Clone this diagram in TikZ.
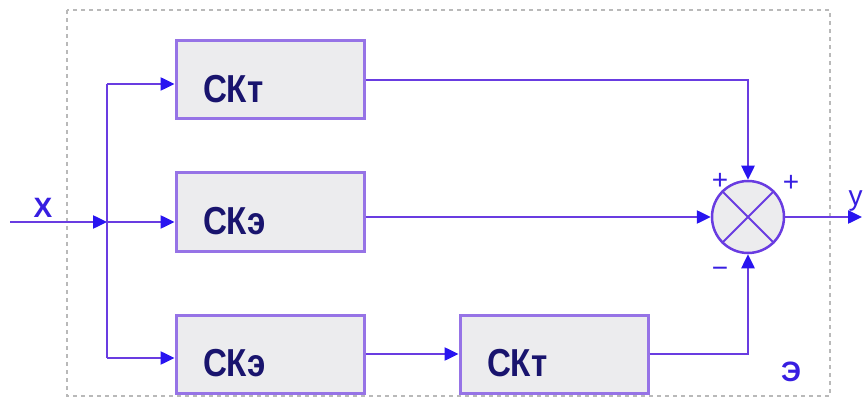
\documentclass[tikz,border=0pt]{standalone}
\usepackage{fontspec}
\setmainfont{Liberation Sans}
\newfontfamily\blockfont[FakeStretch=0.85]{Liberation Sans}
\usetikzlibrary{arrows.meta,calc}

\definecolor{wirecol}{RGB}{105,60,225}
\definecolor{tipcol}{RGB}{40,20,240}
\definecolor{edgecol}{RGB}{150,115,230}
\definecolor{boxfill}{RGB}{236,236,238}
\definecolor{ink}{RGB}{25,20,110}
\definecolor{signcol}{RGB}{55,30,225}

\begin{document}
\begin{tikzpicture}[x=1pt, y=-1pt, line width=2.5pt,
  block/.style={draw=edgecol, fill=boxfill, line width=3pt, minimum width=186pt, minimum height=78pt,
    text width=134pt, align=left, inner xsep=27pt, text height=45pt, text depth=0pt,
    font=\blockfont\fontsize{39}{44}\selectfont\bfseries, text=ink},
  wire/.style={draw=wirecol, -{Triangle[length=14pt,width=13pt,color=tipcol]}},
  sign/.style={text=signcol, font=\fontsize{28}{32}\selectfont}]
\useasboundingbox (0,0) rectangle (863,401);

% outer frame of the element
\draw[gray!55, line width=2.5pt, dash pattern=on 4pt off 4pt] (67,10) rectangle (830,396);

\node[block] (skt1) at (270,80) {СКт};
\node[block] (ske1) at (270,212) {СКэ};
\node[block] (ske2) at (270,354) {СКэ};
\node[block] (skt2) at (554,354) {СКт};

\node[draw=wirecol, fill=boxfill, circle, minimum size=72pt, inner sep=0pt] (sum) at (748,217) {};
\draw[wirecol, line width=2pt] (sum.north west) -- (sum.south east) (sum.north east) -- (sum.south west);

% input and branching
\coordinate (in) at (10,222);
\coordinate (split) at (107,222);
\draw[wire] (in) -- (split);
\draw[draw=wirecol] ([yshift=-4pt]split |- skt1.west) -- ([yshift=-4pt]split |- ske2.west);
\foreach \blk/\dy in {skt1/-4, ske1/-10, ske2/-4}
  \draw[wire] ([yshift=\dy pt]split |- \blk.west) -- ([yshift=\dy pt]\blk.west);

% paths into the summator
\draw[wire] (skt1.east) -| (sum.north);
\draw[wire] (ske1.east |- sum.west) -- (sum.west);
\draw[wire] (ske2.east) -- (skt2.west);
\draw[wire] (skt2.east) -| (sum.south);
\coordinate (out) at (862,217);
\draw[wire] (sum.east) -- (out);

\node[sign] (lx) at (43,208) {\bfseries X};
\node[sign, anchor=west] (ly) at (844,201) {y};
\node[sign] (p1) at (720,181) {+};
\node[sign] (p2) at (791,183) {+};
\node[sign] (m1) at (720,272) {−};
\node[sign] (le) at (791,372) {\bfseries Э};
\end{tikzpicture}
\end{document}
